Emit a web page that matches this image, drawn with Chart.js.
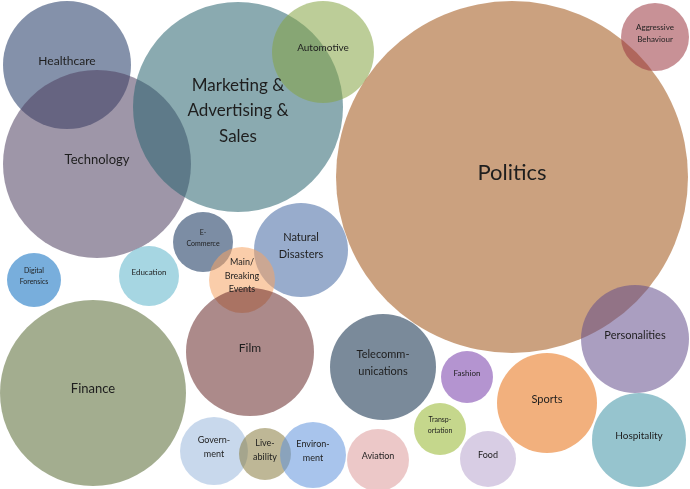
<!DOCTYPE html>
<html>
<head>
<meta charset="utf-8">
<script src="https://cdn.jsdelivr.net/npm/chart.js@4"></script>
<style>
  html, body { margin: 0; padding: 0; background: #fff; }
  #wrap { width: 690px; height: 489px; }
</style>
</head>
<body>
<div id="wrap"><canvas id="chart" width="690" height="489"></canvas></div>
<script>
// topics, bubble positions and bubble sizes
const topics = [
  "Healthcare", "Technology", "Marketing &\nAdvertising &\nSales", "Automotive",
  "Politics", "Aggressive\nBehaviour", "E-\nCommerce", "Natural\nDisasters",
  "Main/\nBreaking\nEvents", "Digital\nForensics", "Education", "Film",
  "Finance", "Telecomm-\nunications", "Fashion", "Transp-\nortation",
  "Food", "Sports", "Personalities", "Hospitality",
  "Govern-\nment", "Live-\nability", "Environ-\nment", "Aviation"
];
const xVals = [67, 97, 238, 323, 512, 655, 203, 301, 242, 34, 149, 250, 93, 383, 467, 440, 488, 547, 635, 639, 214, 265, 313, 378];
const yVals = [65, 164, 107, 52, 177, 37, 242, 250, 280, 280, 276, 352, 393, 367, 377, 429, 459, 403, 339, 440, 451, 454, 455, 460];
const sizes = [64, 94, 105, 51, 176, 34, 30, 47, 33, 27, 30, 64, 93, 53, 26, 26, 28, 50, 54, 47, 34, 26, 33, 31];

// styling
const colors = [
  [31, 55, 100], [79, 64, 97], [41, 100, 111], [133, 164, 68],
  [160, 84, 22], [155, 55, 64], [17, 48, 90], [68, 104, 162],
  [246, 164, 100], [10, 108, 191], [93, 180, 202], [104, 42, 42],
  [88, 106, 51], [13, 42, 71], [118, 60, 169], [150, 182, 46],
  [184, 164, 206], [231, 111, 19], [100, 78, 140], [64, 148, 166],
  [155, 184, 220], [137, 124, 64], [97, 148, 220], [220, 155, 155]
];
const fontSizes = [12, 13, 17, 10, 22, 8, 7, 11, 9, 7, 8, 12, 13, 11, 8, 7, 9, 11, 11, 10, 9, 9, 9, 9];
// labels sit a little above the bubble centre, except the big three-line one
const labelShift = { 2: 4 };

const bubbleLabels = {
  id: 'bubbleLabels',
  afterDatasetsDraw(chart) {
    const ctx = chart.ctx;
    const meta = chart.getDatasetMeta(0);
    ctx.save();
    ctx.fillStyle = '#1e1e1e';
    ctx.textAlign = 'center';
    ctx.textBaseline = 'middle';
    meta.data.forEach((pt, i) => {
      const lines = topics[i].split('\n');
      const fs = fontSizes[i];
      const lh = fs * 1.5;
      const dy = labelShift[i] !== undefined ? labelShift[i] : -4;
      ctx.font = fs + 'px Lato, "Open Sans", sans-serif';
      const top = pt.y + dy - (lines.length - 1) * lh / 2;
      lines.forEach((ln, k) => ctx.fillText(ln, pt.x, top + k * lh));
    });
    ctx.restore();
  }
};

new Chart(document.getElementById('chart').getContext('2d'), {
  type: 'bubble',
  data: {
    labels: topics,
    datasets: [{
      data: topics.map((t, i) => ({ x: xVals[i], y: yVals[i], r: sizes[i] })),
      backgroundColor: colors.map(c => `rgba(${c[0]}, ${c[1]}, ${c[2]}, 0.55)`),
      hoverBackgroundColor: colors.map(c => `rgba(${c[0]}, ${c[1]}, ${c[2]}, 0.55)`),
      borderWidth: 0,
      hoverBorderWidth: 0,
      clip: false
    }]
  },
  options: {
    responsive: false,
    animation: false,
    layout: { padding: 0, autoPadding: false },
    events: [],
    scales: {
      x: { type: 'linear', min: 0, max: 690, display: false },
      y: { type: 'linear', min: 0, max: 489, reverse: true, display: false }
    },
    plugins: {
      legend: { display: false },
      tooltip: { enabled: false },
      title: { display: false }
    }
  },
  plugins: [bubbleLabels]
});
</script>
</body>
</html>
